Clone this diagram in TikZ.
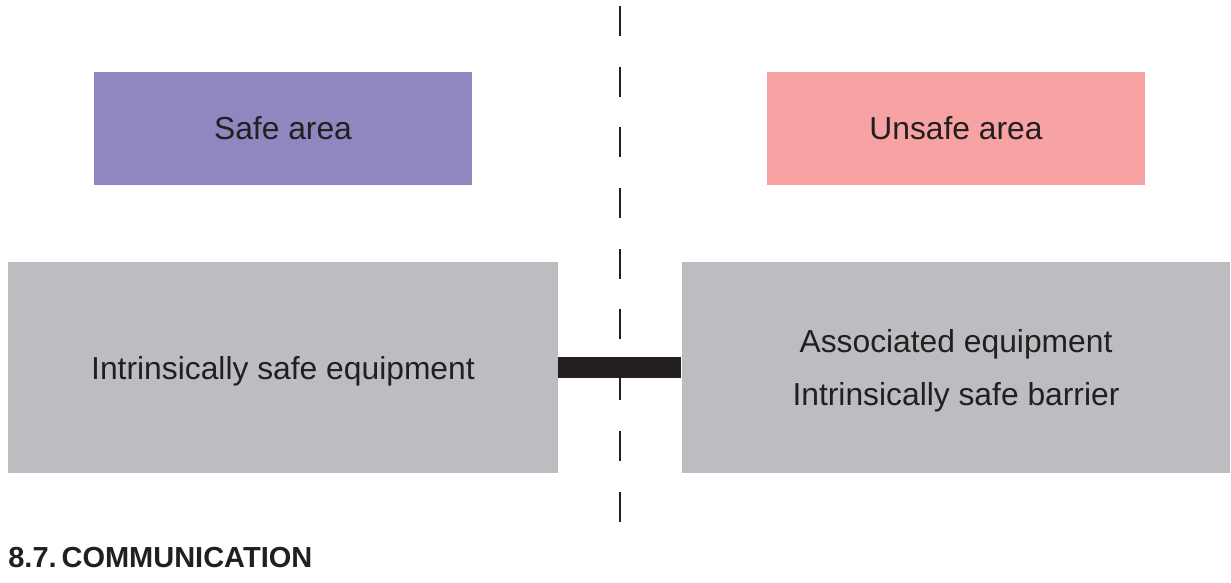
\documentclass[tikz,border=0pt]{standalone}
\usepackage{fontspec}
\setmainfont{Liberation Sans}
\usetikzlibrary{positioning}

\definecolor{safecol}{HTML}{8E87C0}
\definecolor{unsafecol}{HTML}{F7A3A3}
\definecolor{equipcol}{HTML}{BCBDC1}
\definecolor{inkcol}{HTML}{231F20}

\def\Lx{283}
\def\Rx{956}
\def\Divx{620}

\begin{document}
\begin{tikzpicture}[x=0.02cm, y=-0.02cm,
    every node/.style={text=inkcol, font=\fontsize{18.1}{30.2}\selectfont},
    area/.style={minimum width=7.56cm, minimum height=2.26cm, inner sep=0pt},
    equip/.style={fill=equipcol, minimum width=11cm, minimum height=4.22cm, inner sep=0pt, text depth=0pt, align=center}]
    \useasboundingbox (0,0) rectangle (1231,582);

    \node[area, fill=safecol] (safe) at (\Lx,128.5) {Safe area};
    \node[area, fill=unsafecol] (unsafe) at (\Rx,128.5) {Unsafe area};

    \node[equip] (lequip) at (\Lx,367.5) {Intrinsically safe equipment};
    \node[equip, minimum width=10.98cm] (requip) at (\Rx,367.5) {Associated equipment\\Intrinsically safe barrier};

    % dividing line between the areas
    \coordinate (top) at (\Divx,6);
    \coordinate (bottom) at (\Divx,522);
    \draw[inkcol, line width=0.04cm, dash pattern=on 0.6cm off 0.614cm] (top) -- (bottom);

    \draw[inkcol, line width=0.42cm] (lequip.east) -- (requip.west);

    \node[anchor=base west, inner sep=0pt, font=\bfseries\fontsize{16.5}{20}\selectfont] (title) at (8,567) {8.7.\hspace{0.17em}COMMUNICATION};
\end{tikzpicture}
\end{document}
